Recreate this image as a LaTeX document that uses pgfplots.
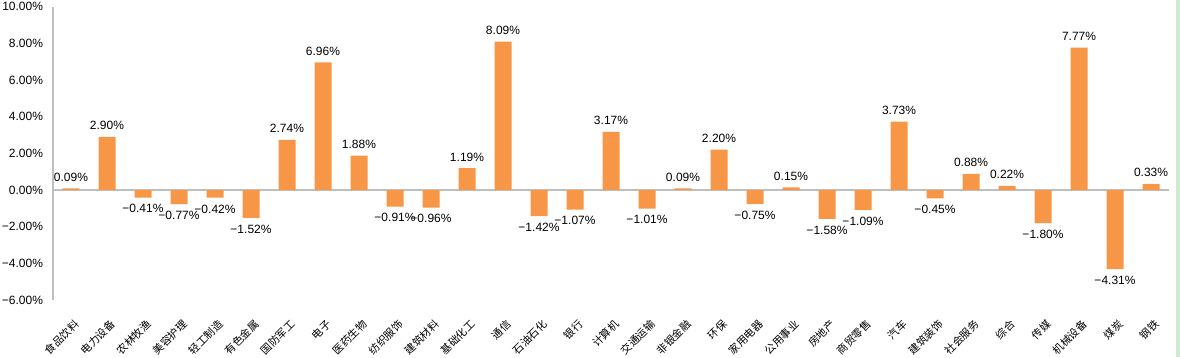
\documentclass[border=0pt]{standalone}
\usepackage{pgfplots}
\pgfplotsset{compat=1.18}
\usepackage{fontspec}
\setmainfont{Liberation Sans}
\newfontfamily\cjk{Noto Sans CJK SC}
\definecolor{barorange}{HTML}{F79646}
\definecolor{axgray}{HTML}{BFBFBF}
\definecolor{edgegreen}{HTML}{CDEBD0}
\newcommand\pct[1]{\pgfmathtruncatemacro\isneg{(#1<0)?1:0}\ifnum\isneg=1 −\fi\pgfmathparse{abs(#1)}\pgfmathprintnumber[fixed,fixed zerofill,precision=2]{\pgfmathresult}\%}
\newcommand\metapct{\pgfmathfloattofixed{\pgfplotspointmeta}\let\mv\pgfmathresult\pct{\mv}}
\begin{document}
\begin{tikzpicture}
\begin{axis}[
  at={(0,0)}, anchor=south west,
  scale only axis,
  width=837pt, height=220pt,
  xmin=-0.5, xmax=30.5,
  ymin=-6, ymax=10,
  ytick={-6,-4,...,10},
  xtick={0,...,30},
  xticklabels={食品饮料,电力设备,农林牧渔,美容护理,轻工制造,有色金属,国防军工,电子,医药生物,纺织服饰,建筑材料,基础化工,通信,石油石化,银行,计算机,交通运输,非银金融,环保,家用电器,公用事业,房地产,商贸零售,汽车,建筑装饰,社会服务,综合,传媒,机械设备,煤炭,钢铁},
  xticklabel style={font=\cjk\fontsize{8pt}{9pt}\selectfont, rotate=45, anchor=north east, inner sep=0pt, yshift=-11pt, xshift=-8.5pt},
  yticklabel={\pct{\tick}},
  yticklabel style={font=\fontsize{9pt}{10pt}\selectfont, xshift=-4pt},
  major tick length=0pt,
  axis x line*=bottom,
  axis y line*=left,
  x axis line style={draw=none},
  y axis line style={draw=axgray, line width=1pt},
  extra y ticks={0},
  extra y tick labels={},
  extra y tick style={grid=major, major grid style={draw=axgray, line width=1pt}},
  ybar, bar width=12.75pt,
  /pgf/number format/assume math mode=true,
  point meta=y,
  nodes near coords={\metapct},
  nodes near coords align={vertical},
  every node near coord/.append style={font=\fontsize{9pt}{10pt}\selectfont, inner sep=5pt},
  clip=false,
]
\addplot[fill=barorange, draw=none] coordinates {
(0,0.09) (1,2.90) (2,-0.41) (3,-0.77) (4,-0.42) (5,-1.52) (6,2.74) (7,6.96)
(8,1.88) (9,-0.91) (10,-0.96) (11,1.19) (12,8.09) (13,-1.42) (14,-1.07) (15,3.17)
(16,-1.01) (17,0.09) (18,2.20) (19,-0.75) (20,0.15) (21,-1.58) (22,-1.09) (23,3.73)
(24,-0.45) (25,0.88) (26,0.22) (27,-1.80) (28,7.77) (29,-4.31) (30,0.33)
};
\end{axis}
\pgfresetboundingbox
\fill[edgegreen] (842.25pt,-42.75pt) rectangle (845.25pt,225pt);
\path[use as bounding box] (-39.75pt,-42.75pt) rectangle (845.25pt,225pt);
\end{tikzpicture}
\end{document}
